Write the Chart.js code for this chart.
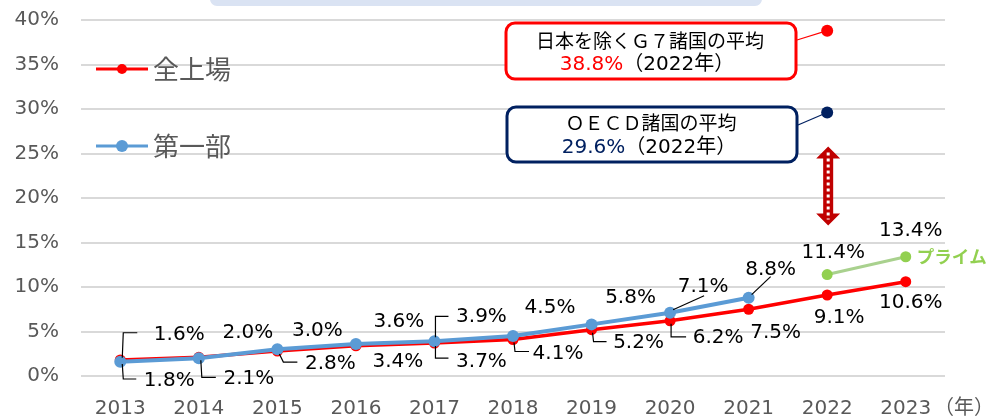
<!DOCTYPE html>
<html>
<head>
<meta charset="utf-8">
<script src="https://cdn.jsdelivr.net/npm/chart.js@4"></script>
<style>
  body { margin: 0; background: #fff; }
  canvas { display: block; }
</style>
</head>
<body>
<canvas id="c" width="988" height="416"></canvas>
<script>
// data
const years = ['2013', '2014', '2015', '2016', '2017', '2018', '2019', '2020', '2021', '2022', '2023'];
const allListed = [1.8, 2.1, 2.8, 3.4, 3.7, 4.1, 5.2, 6.2, 7.5, 9.1, 10.6];   // 全上場
const section1 = [1.6, 2.0, 3.0, 3.6, 3.9, 4.5, 5.8, 7.1, 8.8];              // 第一部 (2013-2021)
const primeYears = ['2022', '2023'];
const prime = [11.4, 13.4];                                                     // プライム
const refYear = '2022';
const g7Avg = 38.8;    // 日本を除くＧ７諸国の平均
const oecdAvg = 29.6;  // ＯＥＣＤ諸国の平均
const yTicks = [0, 5, 10, 15, 20, 25, 30, 35, 40];

// label placement: [dx, dy, leader polyline] relative to the point (pixels)
const redLabelPos = [
  [49, 21, [[2, 4], [3, 19], [16, 19]]],
  [50, 21, [[2, 3], [3, 20], [17, 20]]],
  [53, 13, [[2, 3], [6, 11], [20, 11]]],
  [42, 16, null],
  [47, 19, [[1, 3], [1, 15], [14, 15]]],
  [45, 14, [[1, 3], [2, 12], [16, 12]]],
  [47, 13, [[1, 3], [2, 12], [15, 12]]],
  [48, 17, [[1, 3], [1, 16], [16, 16]]],
  [27, 24, null],
  [12, 23, null],
  [5, 21, null]
];
const blueLabelPos = [
  [59, -27, [[2, -4], [3, -29], [17, -29]]],
  [49, -25, null],
  [40, -19, null],
  [43, -22, null],
  [47, -24, [[1, -4], [1, -25], [14, -25]]],
  [37, -28, null],
  [39, -27, null],
  [33, -26, [[3, -3], [34, -17]]],
  [22, -28, [[3, -3], [22, -21]]]
];
const greenLabelPos = [[6, -22], [5, -26]];

const NUM_FONT = '"DejaVu Sans", "Noto Sans CJK JP", sans-serif';
const JP_FONT = '"Noto Sans CJK JP", "DejaVu Sans", sans-serif';
const RED = '#ff0000';
const BLUE = '#5b9bd5';
const NAVY = '#002060';
const GREEN = '#92d050';
const GREY = '#595959';

const pad = (vals, from) => years.map((y, i) => {
  const k = i - from;
  return k >= 0 && k < vals.length ? vals[k] : null;
});
const single = (val) => years.map(y => (y === refYear ? val : null));

function pct(v) { return v.toFixed(1) + '%'; }

function roundRect(ctx, x, y, w, h, r) {
  ctx.beginPath();
  ctx.moveTo(x + r, y);
  ctx.arcTo(x + w, y, x + w, y + h, r);
  ctx.arcTo(x + w, y + h, x, y + h, r);
  ctx.arcTo(x, y + h, x, y, r);
  ctx.arcTo(x, y, x + w, y, r);
  ctx.closePath();
}

function drawLabels(ctx, meta, vals, pos) {
  meta.data.forEach((pt, i) => {
    if (vals[i] == null || !pos[i]) return;
    const [dx, dy, leader] = pos[i];
    if (leader) {
      ctx.strokeStyle = '#000';
      ctx.lineWidth = 1.2;
      ctx.beginPath();
      leader.forEach(([lx, ly], k) => {
        if (k === 0) ctx.moveTo(pt.x + lx, pt.y + ly);
        else ctx.lineTo(pt.x + lx, pt.y + ly);
      });
      ctx.stroke();
    }
    ctx.fillStyle = '#000';
    ctx.fillText(pct(vals[i]), pt.x + dx, pt.y + dy);
  });
}

function drawNoteBox(ctx, box, color, line1, value, pt) {
  ctx.save();
  ctx.lineWidth = 3;
  ctx.strokeStyle = color;
  ctx.fillStyle = '#fff';
  roundRect(ctx, box.x, box.y, box.w, box.h, 9);
  ctx.fill();
  ctx.stroke();
  // connector to the point
  ctx.lineWidth = 1.2;
  ctx.beginPath();
  ctx.moveTo(box.x + box.w + 1, box.cy);
  ctx.lineTo(pt.x, pt.y);
  ctx.stroke();

  ctx.textBaseline = 'middle';
  ctx.textAlign = 'center';
  ctx.fillStyle = '#000';
  ctx.font = '19px ' + JP_FONT;
  ctx.fillText(line1, box.tx, box.y1);

  ctx.textAlign = 'left';
  ctx.font = '20px ' + NUM_FONT;
  const a = pct(value);
  const b = '（2022年）';
  const wa = ctx.measureText(a).width;
  const wb = ctx.measureText(b).width;
  const x0 = box.tx2 - (wa + wb) / 2;
  ctx.fillStyle = color;
  ctx.fillText(a, x0, box.y2);
  ctx.fillStyle = '#000';
  ctx.fillText(b, x0 + wa, box.y2);
  ctx.restore();
}

function drawArrow(ctx, x, top, bottom) {
  const headW = 12, headH = 12, shaftW = 5;
  ctx.save();
  ctx.fillStyle = '#c00000';
  ctx.beginPath();
  ctx.moveTo(x, top);
  ctx.lineTo(x + headW, top + headH);
  ctx.lineTo(x + shaftW, top + headH);
  ctx.lineTo(x + shaftW, bottom - headH);
  ctx.lineTo(x + headW, bottom - headH);
  ctx.lineTo(x, bottom);
  ctx.lineTo(x - headW, bottom - headH);
  ctx.lineTo(x - shaftW, bottom - headH);
  ctx.lineTo(x - shaftW, top + headH);
  ctx.lineTo(x - headW, top + headH);
  ctx.closePath();
  ctx.fill();
  ctx.strokeStyle = '#fff';
  ctx.lineWidth = 3;
  ctx.setLineDash([3, 3]);
  ctx.beginPath();
  ctx.moveTo(x, top + 6);
  ctx.lineTo(x, bottom - 6);
  ctx.stroke();
  ctx.restore();
}

const notes = {
  id: 'notes',
  beforeDraw(chart) {
    const ctx = chart.ctx;
    ctx.save();
    ctx.fillStyle = '#dae3f3';
    roundRect(ctx, 210, -14, 552, 20, 7);
    ctx.fill();
    ctx.restore();
  },
  afterDatasetsDraw(chart) {
    const ctx = chart.ctx;
    const xs = chart.scales.x, ys = chart.scales.y;
    ctx.save();
    ctx.font = '20px ' + NUM_FONT;
    ctx.textAlign = 'center';
    ctx.textBaseline = 'middle';
    drawLabels(ctx, chart.getDatasetMeta(1), allListed, redLabelPos);
    drawLabels(ctx, chart.getDatasetMeta(0), section1, blueLabelPos);
    const gMeta = chart.getDatasetMeta(2);
    primeYears.forEach((y, k) => {
      const pt = gMeta.data[years.indexOf(y)];
      ctx.fillStyle = '#000';
      ctx.fillText(pct(prime[k]), pt.x + greenLabelPos[k][0], pt.y + greenLabelPos[k][1]);
    });
    const last = gMeta.data[years.indexOf(primeYears[primeYears.length - 1])];
    ctx.textAlign = 'left';
    ctx.fillStyle = GREEN;
    ctx.font = 'bold 17.5px ' + JP_FONT;
    ctx.fillText('プライム', last.x + 11, last.y);

    // legend
    ctx.lineWidth = 3;
    [[RED, '全上場', 69, 5], [BLUE, '第一部', 146, 6]].forEach(([c, t, y, r]) => {
      ctx.strokeStyle = c;
      ctx.fillStyle = c;
      ctx.beginPath();
      ctx.moveTo(96, y);
      ctx.lineTo(148, y);
      ctx.stroke();
      ctx.beginPath();
      ctx.arc(122, y, r, 0, Math.PI * 2);
      ctx.fill();
      ctx.fillStyle = GREY;
      ctx.font = '26px ' + JP_FONT;
      ctx.fillText(t, 153, y);
    });

    // year unit after the last category
    ctx.fillStyle = GREY;
    ctx.font = '20px ' + JP_FONT;
    ctx.fillText('（年）', 934, 406);

    // reference boxes
    const i = years.indexOf(refYear);
    const g7Pt = chart.getDatasetMeta(3).data[i];
    const oePt = chart.getDatasetMeta(4).data[i];
    drawNoteBox(ctx, { x: 506, y: 23, w: 290, h: 56, cy: 40, tx: 650, tx2: 647, y1: 41, y2: 65 },
      RED, '日本を除くＧ７諸国の平均', g7Avg, g7Pt);
    drawNoteBox(ctx, { x: 507, y: 107, w: 290, h: 55, cy: 125, tx: 651, tx2: 649, y1: 123, y2: 148 },
      NAVY, 'ＯＥＣＤ諸国の平均', oecdAvg, oePt);

    drawArrow(ctx, xs.getPixelForValue(i) + 1, ys.getPixelForValue(25.8), ys.getPixelForValue(16.9));
    ctx.restore();
  }
};

new Chart(document.getElementById('c'), {
  type: 'line',
  data: {
    labels: years,
    datasets: [
      {
        label: '第一部',
        data: pad(section1, 0),
        borderColor: BLUE,
        backgroundColor: BLUE,
        borderWidth: 4,
        pointRadius: 6,
        pointBorderWidth: 0,
        spanGaps: false
      },
      {
        label: '全上場',
        data: allListed,
        borderColor: RED,
        backgroundColor: RED,
        borderWidth: 3.5,
        pointRadius: 5.5,
        pointBorderWidth: 0
      },
      {
        label: 'プライム',
        data: pad(prime, years.indexOf(primeYears[0])),
        borderColor: '#a9d18e',
        backgroundColor: GREEN,
        borderWidth: 3,
        pointRadius: 5.5,
        pointBorderWidth: 0
      },
      {
        label: '日本を除くＧ７諸国の平均',
        data: single(g7Avg),
        showLine: false,
        backgroundColor: RED,
        borderColor: RED,
        pointRadius: 6,
        pointBorderWidth: 0
      },
      {
        label: 'ＯＥＣＤ諸国の平均',
        data: single(oecdAvg),
        showLine: false,
        backgroundColor: NAVY,
        borderColor: NAVY,
        pointRadius: 6,
        pointBorderWidth: 0
      }
    ]
  },
  options: {
    responsive: false,
    animation: false,
    devicePixelRatio: 1,
    layout: { padding: { left: 0, right: 43, top: 20, bottom: 0 } },
    scales: {
      x: {
        offset: true,
        grid: { display: false, drawTicks: false },
        border: { display: false },
        ticks: { color: GREY, font: { size: 20, family: NUM_FONT }, padding: 21, maxRotation: 0 },
        afterFit: (s) => { s.height = 40; }
      },
      y: {
        min: 0,
        max: 40,
        afterBuildTicks: (s) => { s.ticks = yTicks.map(v => ({ value: v })); },
        grid: { color: '#d9d9d9', lineWidth: 2, drawTicks: true, tickLength: 22, tickColor: 'rgba(0,0,0,0)' },
        border: { display: false },
        ticks: {
          color: GREY,
          font: { size: 20, family: NUM_FONT },
          padding: 0,
          callback: (v) => v + '%'
        },
        afterFit: (s) => { s.width = 81; }
      }
    },
    plugins: {
      legend: { display: false },
      tooltip: { enabled: false }
    }
  },
  plugins: [notes]
});
</script>
</body>
</html>
